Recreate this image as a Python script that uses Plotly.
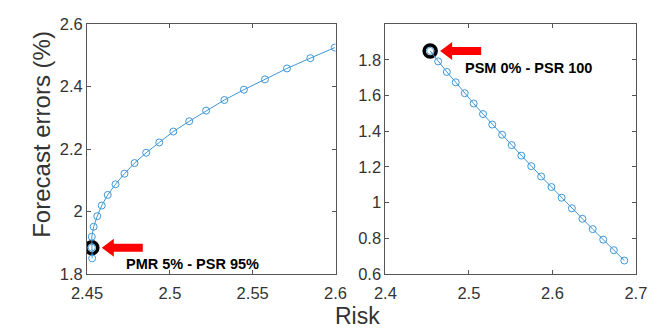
import plotly.graph_objects as go

W, H = 667, 334

# Left panel data (Risk vs Forecast errors)
left_risk = [2.4531, 2.4529, 2.4529, 2.4540, 2.4562, 2.4589, 2.4625, 2.4672, 2.4726, 2.4787,
             2.4857, 2.4936, 2.5021, 2.5117, 2.5219, 2.5329, 2.5447, 2.5574, 2.5707, 2.5848, 2.5996]
left_err = [1.850, 1.884, 1.919, 1.951, 1.985, 2.019, 2.053, 2.087, 2.121, 2.155,
            2.188, 2.221, 2.256, 2.289, 2.323, 2.357, 2.390, 2.423, 2.458, 2.491, 2.525]
left_highlight = 1

# Right panel data
right_risk = [2.4536, 2.4632, 2.4736, 2.4843, 2.4950, 2.5057, 2.5169, 2.5280, 2.5398, 2.5513, 2.5628,
              2.5747, 2.5866, 2.5989, 2.6111, 2.6234, 2.6360, 2.6483, 2.6609, 2.6736, 2.6862]
right_err = [1.850, 1.791, 1.732, 1.674, 1.613, 1.555, 1.496, 1.437, 1.380, 1.322, 1.263,
             1.204, 1.146, 1.087, 1.027, 0.968, 0.909, 0.851, 0.792, 0.733, 0.675]
right_highlight = 0

left_xticks = [2.45, 2.5, 2.55, 2.6]
left_xtext = ["2.45", "2.5", "2.55", "2.6"]
left_yticks = [1.8, 2.0, 2.2, 2.4, 2.6]
left_ytext = ["1.8", "2", "2.2", "2.4", "2.6"]
right_xticks = [2.4, 2.5, 2.6, 2.7]
right_xtext = ["2.4", "2.5", "2.6", "2.7"]
right_yticks = [0.6, 0.8, 1.0, 1.2, 1.4, 1.6, 1.8]
right_ytext = ["0.6", "0.8", "1", "1.2", "1.4", "1.6", "1.8"]

label_left = "PMR 5% - PSR 95%"
label_right = "PSM 0% - PSR 100"

BLUE = "#3d97d6"
AX = "#555555"
TXT = "#333333"
FONT = "Liberation Sans, Arial, sans-serif"

fig = go.Figure()

# highlight rings (drawn first)
fig.add_trace(go.Scatter(x=[left_risk[left_highlight]], y=[left_err[left_highlight]],
                         mode="markers", xaxis="x", yaxis="y",
                         marker=dict(symbol="circle-open", size=12, color="black",
                                     line=dict(width=3.5, color="black")),
                         showlegend=False, hoverinfo="skip"))
fig.add_trace(go.Scatter(x=[right_risk[right_highlight]], y=[right_err[right_highlight]],
                         mode="markers", xaxis="x2", yaxis="y2",
                         marker=dict(symbol="circle-open", size=12, color="black",
                                     line=dict(width=3.5, color="black")),
                         showlegend=False, hoverinfo="skip"))

fig.add_trace(go.Scatter(x=left_risk, y=left_err, mode="lines+markers", xaxis="x", yaxis="y",
                         line=dict(color=BLUE, width=1),
                         marker=dict(symbol="circle-open", size=7, color=BLUE, line=dict(width=1, color=BLUE)),
                         showlegend=False))
fig.add_trace(go.Scatter(x=right_risk, y=right_err, mode="lines+markers", xaxis="x2", yaxis="y2",
                         line=dict(color=BLUE, width=1),
                         marker=dict(symbol="circle-open", size=7, color=BLUE, line=dict(width=1, color=BLUE)),
                         showlegend=False))

ydom = [1 - 280 / H, 1 - 16 / H]

common = dict(showgrid=False, zeroline=False, showline=True, linecolor=AX, linewidth=1,
              mirror="ticks", ticks="inside", ticklen=4, tickcolor=AX,
              tickfont=dict(family=FONT, size=16.5, color=TXT))

fig.update_layout(
    width=W, height=H,
    margin=dict(l=0, r=0, t=0, b=0),
    paper_bgcolor="white", plot_bgcolor="white",
    xaxis=dict(domain=[74 / W, 333 / W], range=[2.45, 2.6], anchor="y",
               tickvals=left_xticks, ticktext=left_xtext, ticklabelstandoff=4, **common),
    yaxis=dict(domain=ydom, range=[1.8, 2.6], anchor="x",
               tickvals=left_yticks, ticktext=left_ytext, **common),
    xaxis2=dict(domain=[385 / W, 646 / W], range=[2.4, 2.7], anchor="y2",
                tickvals=right_xticks, ticktext=right_xtext, ticklabelstandoff=4, **common),
    yaxis2=dict(domain=ydom, range=[0.6, 2.0], anchor="x2",
                tickvals=right_yticks, ticktext=right_ytext, **common),
)

arrow_path = "M 10 0 L 22 9 L 22 4 L 51 4 L 51 -4 L 22 -4 L 22 -9 Z"
fig.add_shape(type="path", xref="x", yref="y", xsizemode="pixel", ysizemode="pixel",
              xanchor=left_risk[left_highlight], yanchor=left_err[left_highlight],
              path=arrow_path, fillcolor="#ff0000", line=dict(width=0))
fig.add_shape(type="path", xref="x2", yref="y2", xsizemode="pixel", ysizemode="pixel",
              xanchor=right_risk[right_highlight], yanchor=right_err[right_highlight],
              path=arrow_path, fillcolor="#ff0000", line=dict(width=0))

fig.add_annotation(x=113 / W, y=1 - 270 / H, xref="paper", yref="paper", text=label_left,
                   showarrow=False, xanchor="left", yanchor="middle",
                   font=dict(family=FONT, size=14.5, color="black", weight="bold"))
fig.add_annotation(x=466 / W, y=1 - 62 / H, xref="paper", yref="paper", text=label_right,
                   showarrow=False, xanchor="left", yanchor="middle",
                   font=dict(family=FONT, size=14.5, color="black", weight="bold"))

fig.add_annotation(x=27 / W, y=1 - 132 / H, xref="paper", yref="paper", text="Forecast errors (%)",
                   showarrow=False, textangle=-90, xanchor="center", yanchor="middle",
                   font=dict(family=FONT, size=24, color=TXT))
fig.add_annotation(x=356 / W, y=1 - 325 / H, xref="paper", yref="paper", text="Risk",
                   showarrow=False, xanchor="center", yanchor="middle",
                   font=dict(family=FONT, size=23, color=TXT))

fig.write_html("out.html")
